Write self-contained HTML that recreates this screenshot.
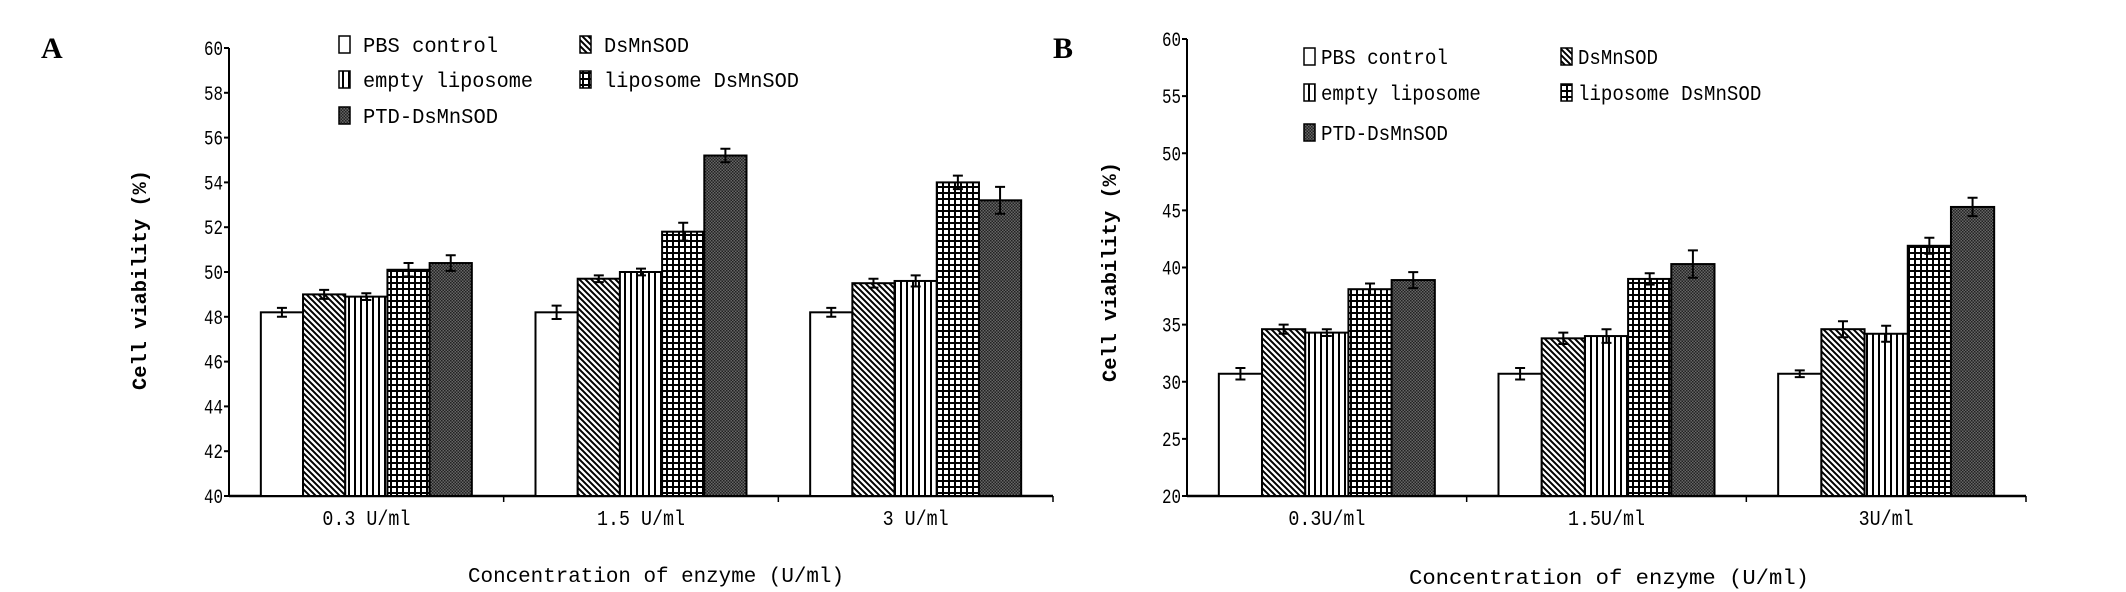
<!DOCTYPE html>
<html><head><meta charset="utf-8"><style>
html,body{margin:0;padding:0;background:#fff;}
svg{display:block;}
text{font-family:"Liberation Mono","DejaVu Sans Mono",monospace;fill:#000;}
.lbl{font-family:"Liberation Serif",serif;font-weight:bold;font-size:30px;}
</style></head><body>
<svg id="fig" width="2126" height="592" viewBox="0 0 2126 592" xmlns="http://www.w3.org/2000/svg">
<defs>
<pattern id="pDiag" width="6" height="6" patternUnits="userSpaceOnUse"><rect width="6" height="6" fill="#fff"/><path d="M-1,-1 L7,7 M-4,2 L2,8 M2,-4 L8,2" stroke="#000" stroke-width="2"/></pattern>
<pattern id="pVert" width="6" height="6" patternUnits="userSpaceOnUse"><rect width="6" height="6" fill="#fff"/><rect x="0" width="2" height="6" fill="#000"/></pattern>
<pattern id="pGrid" width="6" height="6" patternUnits="userSpaceOnUse"><rect width="6" height="6" fill="#fff"/><rect x="0" width="2" height="6" fill="#000"/><rect y="0" width="6" height="2" fill="#000"/></pattern>
<pattern id="pDark" width="3" height="3" patternUnits="userSpaceOnUse"><rect width="3" height="3" fill="#666"/><rect width="1.5" height="1.5" fill="#222"/><rect x="1.5" y="1.5" width="1.5" height="1.5" fill="#222"/></pattern>
</defs>
<text class="lbl" x="41" y="58">A</text>
<text class="lbl" x="1053" y="58">B</text>
</svg>
<script>
const categories = ["0.3 U/ml", "1.5 U/ml", "3 U/ml"];
const categoriesB = ["0.3U/ml", "1.5U/ml", "3U/ml"];
const seriesNames = ["PBS control", "DsMnSOD", "empty liposome", "liposome DsMnSOD", "PTD-DsMnSOD"];
const aPBS = [48.2, 48.2, 48.2];
const aDs = [49.0, 49.7, 49.5];
const aEmpty = [48.9, 50.0, 49.6];
const aLipo = [50.1, 51.8, 54.0];
const aPTD = [50.4, 55.2, 53.2];
const aErrPBS = [0.2, 0.3, 0.2];
const aErrDs = [0.2, 0.15, 0.2];
const aErrEmpty = [0.15, 0.15, 0.25];
const aErrLipo = [0.3, 0.4, 0.3];
const aErrPTD = [0.35, 0.3, 0.6];
const aTicks = [40, 42, 44, 46, 48, 50, 52, 54, 56, 58, 60];
const bPBS = [30.7, 30.7, 30.7];
const bDs = [34.6, 33.8, 34.6];
const bEmpty = [34.3, 34.0, 34.2];
const bLipo = [38.1, 39.0, 41.9];
const bPTD = [38.9, 40.3, 45.3];
const bErrPBS = [0.5, 0.5, 0.3];
const bErrDs = [0.4, 0.5, 0.7];
const bErrEmpty = [0.3, 0.6, 0.7];
const bErrLipo = [0.5, 0.5, 0.7];
const bErrPTD = [0.7, 1.2, 0.8];
const bTicks = [20, 25, 30, 35, 40, 45, 50, 55, 60];

const fills = ["#fff", "url(#pDiag)", "url(#pVert)", "url(#pGrid)", "url(#pDark)"];
const NS = "http://www.w3.org/2000/svg";
const svg = document.getElementById("fig");
function mk(tag, attrs, parent) {
  const e = document.createElementNS(NS, tag);
  for (const k in attrs) e.setAttribute(k, attrs[k]);
  (parent || svg).appendChild(e);
  return e;
}
function chart(cfg) {
  const g = mk("g", {});
  
  
  const ymin = cfg.ticks[0], ymax = cfg.ticks[cfg.ticks.length - 1];
  const y = v => cfg.yBot - (v - ymin) / (ymax - ymin) * (cfg.yBot - cfg.yTop);
  const catW = (cfg.xR - cfg.x0) / cfg.cats.length;
  const ya = mk("line", {x1: cfg.x0, y1: cfg.yTop, x2: cfg.x0, y2: cfg.yBot, stroke: "#000", "stroke-width": 2}, g);
  
  
  const xa = mk("line", {x1: cfg.x0, y1: cfg.yBot, x2: cfg.xR, y2: cfg.yBot, stroke: "#000", "stroke-width": 2.5}, g);
  
  
  cfg.ticks.forEach(t => {
    mk("line", {x1: cfg.x0 - 5, y1: y(t), x2: cfg.x0, y2: y(t), stroke: "#000", "stroke-width": 2}, g);
    const tx = mk("text", {x: cfg.x0 - 6, y: y(t) + 7, "text-anchor": "end", "font-size": 20, textLength: 19, lengthAdjust: "spacingAndGlyphs"}, g);
    tx.textContent = t;
    
    
  });
  for (let i = 1; i <= cfg.cats.length; i++) {
    mk("line", {x1: cfg.x0 + catW * i, y1: cfg.yBot, x2: cfg.x0 + catW * i, y2: cfg.yBot + 6, stroke: "#000", "stroke-width": 1.5}, g);
  }
  cfg.cats.forEach((c, i) => {
    const tx = mk("text", {x: cfg.x0 + catW * (i + 0.5), y: cfg.yBot + 29, "text-anchor": "middle", "font-size": 21, textLength: c.length * 11, lengthAdjust: "spacingAndGlyphs"}, g);
    tx.textContent = c;
    
    
    const bw = cfg.barW, gx = cfg.x0 + catW * (i + 0.5) - bw * 2.5;
    cfg.series.forEach((s, j) => {
      const v = s[i], e = cfg.errs[j][i];
      const r = mk("rect", {x: gx + j * bw, y: y(v), width: bw, height: cfg.yBot - y(v), fill: fills[j], stroke: "#000", "stroke-width": 2}, g);
      
      
      const cx = gx + j * bw + bw / 2;
      const eb = mk("path", {d: `M${cx},${y(v + e)} V${y(v - e)} M${cx - 5},${y(v + e)} H${cx + 5} M${cx - 5},${y(v - e)} H${cx + 5}`, stroke: "#000", "stroke-width": 2, fill: "none"}, g);
      
      
    });
  });
  const yt = mk("text", {transform: `translate(${cfg.yTitleX},${cfg.yTitleY}) rotate(-90)`, "text-anchor": "middle", "font-size": 20, "font-weight": "bold", textLength: 220, lengthAdjust: "spacingAndGlyphs"}, g);
  yt.textContent = "Cell viability (%)";
  
  
  const xt = mk("text", {x: cfg.xTitleX, y: cfg.xTitleY, "font-size": 21, textLength: cfg.xTitleW, lengthAdjust: "spacingAndGlyphs"}, g);
  xt.textContent = "Concentration of enzyme (U/ml)";
  
  
  const lw = [135, 85, 170, 195, 135];
  seriesNames.forEach((n, j) => {
    const col = j % 2, row = Math.floor(j / 2);
    const lx = cfg.legX[col], ly = cfg.legY[row];
    const sq = mk("rect", {x: lx, y: ly - 9, width: 11, height: 17, fill: fills[j], stroke: "#000", "stroke-width": 1.5}, g);
    
    
    const tx = mk("text", {x: lx + cfg.legGap, y: ly + 7, "font-size": 21, textLength: lw[j] * cfg.legScale, lengthAdjust: "spacingAndGlyphs"}, g);
    tx.textContent = n;
    
    
  });
}
chart({name: "chart-a", cats: categories, series: [aPBS, aDs, aEmpty, aLipo, aPTD], errs: [aErrPBS, aErrDs, aErrEmpty, aErrLipo, aErrPTD], ticks: aTicks,
  x0: 229, xR: 1053, yTop: 48, yBot: 496, barW: 42.2, yTitleX: 146, yTitleY: 280, xTitleX: 468, xTitleY: 582, xTitleW: 376,
  legX: [339, 580], legY: [45, 80, 116], legGap: 24, legScale: 1});
chart({name: "chart-b", cats: categoriesB, series: [bPBS, bDs, bEmpty, bLipo, bPTD], errs: [bErrPBS, bErrDs, bErrEmpty, bErrLipo, bErrPTD], ticks: bTicks,
  x0: 1187, xR: 2026, yTop: 39, yBot: 496, barW: 43.2, yTitleX: 1116, yTitleY: 272, xTitleX: 1409, xTitleY: 584, xTitleW: 400,
  legX: [1304, 1561], legY: [57, 93, 133], legGap: 17, legScale: 0.94});
</script>
</body></html>
